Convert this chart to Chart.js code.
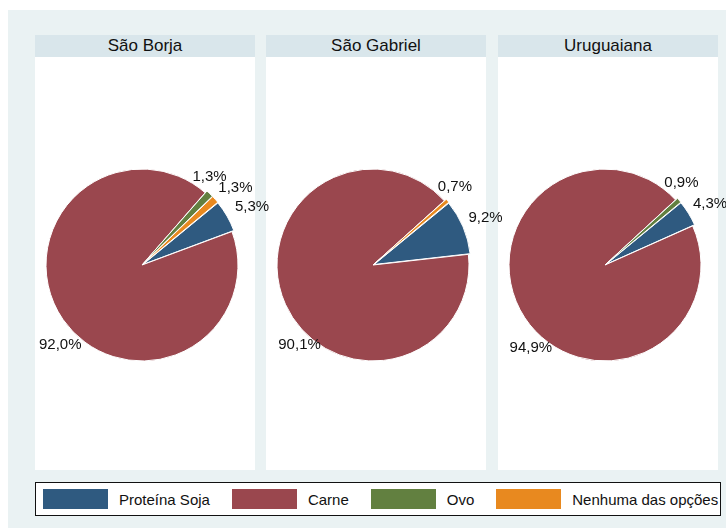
<!DOCTYPE html>
<html>
<head>
<meta charset="utf-8">
<script src="https://cdn.jsdelivr.net/npm/chart.js@4.4.0/dist/chart.umd.min.js"></script>
<style>
    body { margin: 0; width: 726px; height: 528px; background: #fff; position: relative; overflow: hidden;
           font-family: "Liberation Sans", Arial, Helvetica, sans-serif; }
    #fundo { position: absolute; left: 8px; top: 10px; width: 718px; height: 518px; background: #eaf2f3; }
    .titulo { position: absolute; top: 35px; height: 22px; width: 220px; background: #d9e6eb;
              font-size: 17px; line-height: 22px; text-align: center; color: #111; }
    .painel { position: absolute; top: 57px; height: 413px; width: 220px; background: #fff; }
    canvas { position: absolute; top: 57px; }
    #legenda { position: absolute; left: 35px; top: 482px; width: 686px; height: 34px; box-sizing: border-box;
               border: 1px solid #111; background: #fff; display: flex; align-items: center; padding-left: 7px;
               white-space: nowrap; overflow: visible; }
    .item { display: flex; align-items: center; margin-right: 22px; font-size: 15px; color: #111; flex-shrink: 0; }
    .cor { width: 65px; height: 20px; margin-right: 11px; flex-shrink: 0; }
</style>
</head>
<body>
<div id="fundo"></div>
<div id="paineis"></div>
<div id="legenda"></div>

<script>
console.log("Entro al main");

// datos
const categorias = ["Proteína Soja", "Carne", "Ovo", "Nenhuma das opções"];
const municipios = ["São Borja", "São Gabriel", "Uruguaiana"];
const saoBorja = [5.3, 92.0, 1.3, 1.3];
const saoGabriel = [9.2, 90.1, 0, 0.7];
const uruguaiana = [4.3, 94.9, 0.9, 0];

const cores = ["#2f5a80", "#9a474e", "#628040", "#e8891f"];
const valores = [saoBorja, saoGabriel, uruguaiana];
const xPaineis = [35, 266, 498];

// ajustes de las etiquetas (dx, dy) por rebanada
const ajustes = [
    [[6, 2], [17, 12], [-15, -1], [4, 3]],
    [[2, 0], [36, 31], [0, 0], [-9, 0]],
    [[3, 2], [26, 17], [-14, -3], [0, 0]]
];

const paineis = document.getElementById("paineis");

const etiquetasPlugin = {
    id: "etiquetas",
    afterDatasetsDraw(chart, args, opts) {
        const ctx = chart.ctx;
        const meta = chart.getDatasetMeta(0);
        const datos = chart.data.datasets[0].data;
        ctx.save();
        ctx.font = "15px 'Liberation Sans', Arial, sans-serif";
        ctx.fillStyle = "#111";
        ctx.textAlign = "center";
        ctx.textBaseline = "middle";
        meta.data.forEach((arc, i) => {
            if (datos[i] == 0) return;
            const p = arc.getProps(["x", "y", "startAngle", "endAngle", "outerRadius"], true);
            const medio = (p.startAngle + p.endAngle) / 2;
            const d = p.outerRadius + 24;
            const aj = opts.ajustes[i];
            const x = p.x + Math.cos(medio) * d + aj[0];
            const y = p.y + Math.sin(medio) * d + aj[1];
            ctx.fillText(datos[i].toFixed(1).replace(".", ",") + "%", x, y);
        });
        ctx.restore();
    }
};

for (let k = 0; k < municipios.length; k++) {
    const left = xPaineis[k];
    paineis.innerHTML += `<div class="titulo" style="left:${left}px">${municipios[k]}</div>
        <div class="painel" style="left:${left}px"></div>`;
}

for (let k = 0; k < municipios.length; k++) {
    const canvas = document.createElement("canvas");
    canvas.width = 240;
    canvas.height = 413;
    canvas.style.left = xPaineis[k] + "px";
    document.body.appendChild(canvas);

    new Chart(canvas.getContext("2d"), {
        type: "pie",
        data: {
            labels: categorias,
            datasets: [{
                data: valores[k],
                backgroundColor: cores,
                borderColor: "#ffffff",
                borderWidth: 1,
                offset: [5, 0, 5, 5],
                radius: 96
            }]
        },
        options: {
            responsive: false,
            animation: false,
            rotation: 50.5,
            layout: { padding: { left: 0, right: 26, top: 3, bottom: 0 } },
            plugins: {
                legend: { display: false },
                tooltip: { enabled: false },
                etiquetas: { ajustes: ajustes[k] }
            }
        },
        plugins: [etiquetasPlugin]
    });
}

// leyenda
const legenda = document.getElementById("legenda");
for (let i = 0; i < categorias.length; i++) {
    legenda.innerHTML += `<div class="item"><div class="cor" style="background:${cores[i]}"></div>${categorias[i]}</div>`;
}
</script>
</body>
</html>
